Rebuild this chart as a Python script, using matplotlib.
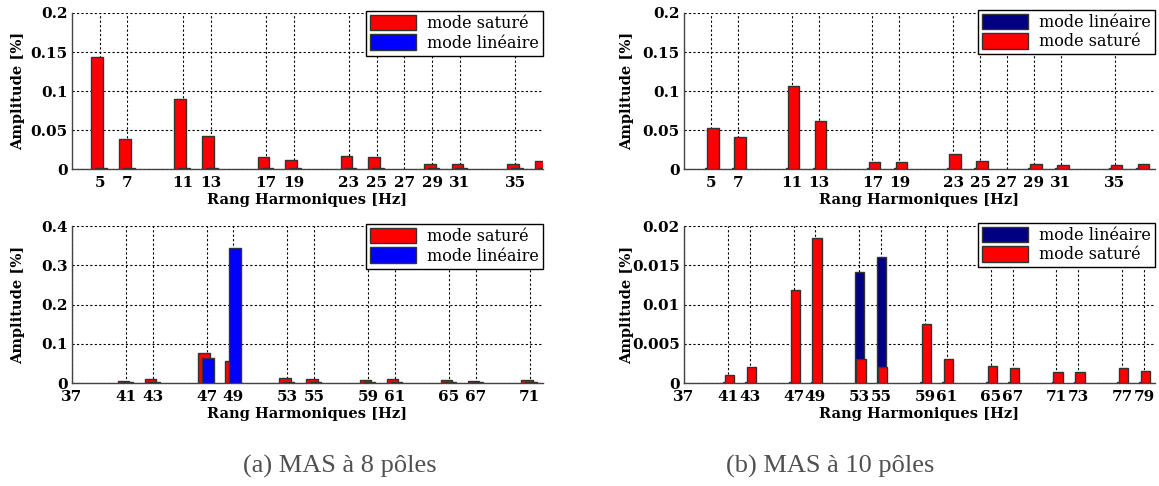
import numpy as np
import matplotlib
matplotlib.use("Agg")
import matplotlib.pyplot as plt

plt.rcParams['font.family'] = ['DejaVu Serif']

# (a) MAS 8 poles, rangs 5..37
h_a1 = [5, 7, 11, 13, 17, 19, 23, 25, 29, 31, 35, 37]
sat_a1 = [0.144, 0.039, 0.090, 0.042, 0.015, 0.011, 0.017, 0.015, 0.006, 0.006, 0.007, 0.010]
lin_a1 = [0.001] * len(h_a1)
xt_a1 = [5, 7, 11, 13, 17, 19, 23, 25, 27, 29, 31, 35]

# (a) MAS 8 poles, rangs 41..71
h_a2 = [41, 43, 47, 49, 53, 55, 59, 61, 65, 67, 71]
sat_a2 = [0.005, 0.010, 0.076, 0.055, 0.013, 0.010, 0.008, 0.010, 0.008, 0.006, 0.008]
lin_a2 = [0.002, 0.002, 0.063, 0.343, 0.002, 0.002, 0.002, 0.002, 0.002, 0.002, 0.002]
xt_a2 = [37, 41, 43, 47, 49, 53, 55, 59, 61, 65, 67, 71]

# (b) MAS 10 poles, rangs 5..37
h_b1 = [5, 7, 11, 13, 17, 19, 23, 25, 29, 31, 35, 37]
sat_b1 = [0.053, 0.041, 0.106, 0.061, 0.0085, 0.0085, 0.0195, 0.010, 0.006, 0.0047, 0.0047, 0.006]
lin_b1 = [0.001] * len(h_b1)
xt_b1 = [5, 7, 11, 13, 17, 19, 23, 25, 27, 29, 31, 35]

# (b) MAS 10 poles, rangs 41..79
h_b2 = [41, 43, 47, 49, 53, 55, 59, 61, 65, 67, 71, 73, 77, 79]
sat_b2 = [0.00106, 0.0020, 0.0118, 0.0185, 0.0030, 0.0020, 0.0075, 0.0030, 0.0022, 0.0019,
          0.00136, 0.00136, 0.0019, 0.0015]
lin_b2 = [0.0001, 0.0001, 0.0001, 0.0001, 0.01415, 0.0160, 0.0001, 0.0001, 0.0001, 0.0001,
          0.0001, 0.0001, 0.0001, 0.0001]
xt_b2 = [37, 41, 43, 47, 49, 53, 55, 59, 61, 65, 67, 71, 73, 77, 79]

RED = '#ff0000'
BLUE = '#0000ff'
NAVY = '#000080'
EDGE = '#333333'

fig = plt.figure(figsize=(11.59, 4.86), dpi=100)
W, H = 1159, 486


def make_ax(x0, y0, x1, y1):
    return fig.add_axes([x0 / W, (H - y1) / H, (x1 - x0) / W, (y1 - y0) / H])


def style(ax, xlim, ylim, yticks, ylabels, xticks, ylab_x):
    ax.set_xlim(xlim)
    ax.set_ylim(ylim)
    ax.set_yticks(yticks)
    ax.set_yticklabels(ylabels)
    ax.set_xticks(xticks)
    ax.set_xticklabels([str(t) for t in xticks])
    ax.grid(True, color='black', linestyle=(0, (2, 2)), linewidth=0.8)
    ax.set_axisbelow(True)
    for s in ['top', 'right']:
        ax.spines[s].set_visible(False)
    for s in ['left', 'bottom']:
        ax.spines[s].set_color('#444444')
        ax.spines[s].set_linewidth(1.0)
    ax.tick_params(axis='x', length=0, labelsize=11, pad=5)
    ax.tick_params(axis='y', length=0, labelsize=11, pad=3)
    for lab in ax.get_xticklabels() + ax.get_yticklabels():
        lab.set_fontweight('bold')
    ax.set_xlabel('Rang Harmoniques [Hz]', fontsize=10.5, fontweight='bold', labelpad=2)
    ax.set_ylabel('Amplitude [%]', fontsize=10.5, fontweight='bold')
    ax.yaxis.set_label_coords(ylab_x, 0.5)


def legend(ax, handles, labels, top):
    leg = ax.legend(handles, labels, loc='upper right',
                    bbox_to_anchor=(1.0, top), borderaxespad=0, fontsize=11.5,
                    fancybox=False, framealpha=1, edgecolor='black',
                    handlelength=2.9, handleheight=1.1, handletextpad=0.7,
                    borderpad=0.25, labelspacing=0.15)
    leg.get_frame().set_linewidth(1.0)


def left_bars(ax, h, sat, lin):
    h = np.array(h)
    b1 = ax.bar(h - 0.18, sat, width=0.85, color=RED, edgecolor=EDGE, linewidth=1, zorder=3)
    b2 = ax.bar(h + 0.1, lin, width=0.85, color=BLUE, edgecolor=EDGE, linewidth=1, zorder=3)
    legend(ax, [b1, b2], ['mode saturé', 'mode linéaire'], 1.013)


def right_bars(ax, h, sat, lin):
    h = np.array(h)
    b2 = ax.bar(h, lin, width=0.85, color=NAVY, edgecolor=EDGE, linewidth=1, zorder=3)
    b1 = ax.bar(h + 0.15, sat, width=0.85, color=RED, edgecolor=EDGE, linewidth=1, zorder=4)
    legend(ax, [b2, b1], ['mode linéaire', 'mode saturé'], 1.02)


ax1 = make_ax(72, 13, 543, 169)
left_bars(ax1, h_a1, sat_a1, lin_a1)
style(ax1, (3, 37), (0, 0.2), [0, 0.05, 0.1, 0.15, 0.2], ['0', '0.05', '0.1', '0.15', '0.2'], xt_a1, -0.10)

ax2 = make_ax(72, 226, 543, 383)
left_bars(ax2, h_a2, sat_a2, lin_a2)
style(ax2, (37, 72), (0, 0.4), [0, 0.1, 0.2, 0.3, 0.4], ['0', '0.1', '0.2', '0.3', '0.4'], xt_a2, -0.10)

ax3 = make_ax(684, 13, 1155, 169)
right_bars(ax3, h_b1, sat_b1, lin_b1)
style(ax3, (3, 38), (0, 0.2), [0, 0.05, 0.1, 0.15, 0.2], ['0', '0.05', '0.1', '0.15', '0.2'], xt_b1, -0.105)

ax4 = make_ax(684, 226, 1155, 383)
right_bars(ax4, h_b2, sat_b2, lin_b2)
style(ax4, (37, 80), (0, 0.02), [0, 0.005, 0.01, 0.015, 0.02], ['0', '0.005', '0.01', '0.015', '0.02'], xt_b2, -0.105)

fig.text(340 / W, 1 - 466 / H, '(a) MAS à 8 pôles', ha='center', va='center',
         fontsize=19, color='#505050', family='Liberation Serif')
fig.text(830 / W, 1 - 466 / H, '(b) MAS à 10 pôles', ha='center', va='center',
         fontsize=19, color='#505050', family='Liberation Serif')

fig.savefig('out.png', dpi=100)
